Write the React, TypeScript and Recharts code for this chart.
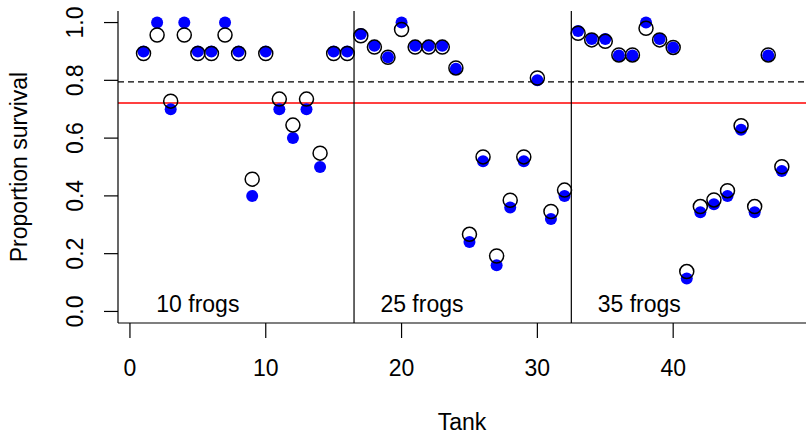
import { ScatterChart, Scatter, XAxis, YAxis, ReferenceLine } from 'recharts';

document.body.style.margin = '0';

const FONT = '"Liberation Sans", Arial, Helvetica, sans-serif';
const FS = 23;

const tanks = Array.from({ length: 48 }, (_, i) => i + 1);

// raw proportion of survivors per tank
const observed = [
    0.9, 1, 0.7, 1, 0.9, 0.9, 1, 0.9, 0.4, 0.9, 0.7, 0.6, 0.7, 0.5, 0.9, 0.9,
    0.96, 0.92, 0.88, 1, 0.92, 0.92, 0.92, 0.84, 0.24, 0.52, 0.16, 0.36, 0.52, 0.8, 0.32, 0.4,
    0.971, 0.943, 0.943, 0.886, 0.886, 1, 0.943, 0.914, 0.114, 0.343, 0.371, 0.4, 0.629, 0.343, 0.886, 0.486,
];

// model estimates (open circles)
const estimated = [
    0.893, 0.957, 0.728, 0.957, 0.893, 0.893, 0.957, 0.893, 0.458, 0.893, 0.735, 0.645, 0.735, 0.548, 0.893, 0.893,
    0.954, 0.915, 0.88, 0.976, 0.915, 0.915, 0.915, 0.843, 0.267, 0.535, 0.192, 0.385, 0.535, 0.808, 0.346, 0.42,
    0.963, 0.94, 0.935, 0.888, 0.888, 0.98, 0.94, 0.914, 0.138, 0.363, 0.386, 0.418, 0.643, 0.363, 0.888, 0.501,
];

const groupLabels = ['10 frogs', '25 frogs', '35 frogs'];
const groupLabelX = [5, 21.5, 37.5];
const dividers = [16.5, 32.5];
const xTicks = [0, 10, 20, 30, 40];
const yTicks = [0, 0.2, 0.4, 0.6, 0.8, 1.0];
const meanObserved = 0.7214;
const meanEstimated = 0.795;

const observedData = tanks.map((t, i) => ({ x: t, y: observed[i] }));
const estimatedData = tanks.map((t, i) => ({ x: t, y: estimated[i] }));
const labelData = groupLabels.map((label, i) => ({ x: groupLabelX[i], y: 0, label }));

const XTick = (props: any) => (
    <text x={props.x} y={376} textAnchor="middle" fontFamily={FONT} fontSize={FS} fill="#000">
        {props.payload.value}
    </text>
);

const YTick = (props: any) => (
    <text
        transform={`translate(83, ${props.y}) rotate(-90)`}
        x={0}
        y={0}
        textAnchor="middle"
        fontFamily={FONT}
        fontSize={FS}
        fill="#000"
    >
        {Number(props.payload.value).toFixed(1)}
    </text>
);

export default function App() {
    return (
        <ScatterChart width={806} height={435} margin={{ top: 11, right: 0, bottom: 0, left: 0 }}>
            <XAxis
                dataKey="x"
                type="number"
                domain={[-0.88, 49.78]}
                ticks={xTicks}
                tickSize={15}
                tick={<XTick />}
                stroke="#000"
                strokeWidth={1.2}
                height={112}
                allowDataOverflow
                label={(p: any) => (
                    <text
                        x={p.viewBox.x + p.viewBox.width / 2}
                        y={430}
                        textAnchor="middle"
                        fontFamily={FONT}
                        fontSize={FS}
                        fill="#000"
                    >
                        Tank
                    </text>
                )}
            />
            <XAxis xAxisId="top" orientation="top" type="number" domain={[0, 1]} height={0} tick={false} tickLine={false} stroke="#000" strokeWidth={1.2} />
            <YAxis
                dataKey="y"
                type="number"
                domain={[-0.04, 1.04]}
                ticks={yTicks}
                tickSize={14}
                tick={<YTick />}
                stroke="#000"
                strokeWidth={1.2}
                width={118}
                allowDataOverflow
                label={() => (
                    <text
                        transform="translate(27, 167) rotate(-90)"
                        x={0}
                        y={0}
                        textAnchor="middle"
                        fontFamily={FONT}
                        fontSize={FS}
                        fill="#000"
                    >
                        Proportion survival
                    </text>
                )}
            />

            <ReferenceLine y={meanEstimated} stroke="#000" strokeWidth={1.2} strokeDasharray="6 4" />
            <ReferenceLine y={meanObserved} stroke="#ff0000" strokeWidth={1.5} />
            {dividers.map((d) => (
                <ReferenceLine key={d} x={d} stroke="#000" strokeWidth={1.2} />
            ))}

            <Scatter
                data={observedData}
                isAnimationActive={false}
                shape={(p: any) => <circle cx={p.cx} cy={p.cy} r={6} fill="#0000ff" />}
            />
            <Scatter
                data={estimatedData}
                isAnimationActive={false}
                shape={(p: any) => <circle cx={p.cx} cy={p.cy} r={7} fill="none" stroke="#000" strokeWidth={1.5} />}
            />
            <Scatter
                data={labelData}
                isAnimationActive={false}
                shape={(p: any) => (
                    <text x={p.cx} y={p.cy + 1} textAnchor="middle" fontFamily={FONT} fontSize={FS} fill="#000">
                        {p.payload.label}
                    </text>
                )}
            />
        </ScatterChart>
    );
}
